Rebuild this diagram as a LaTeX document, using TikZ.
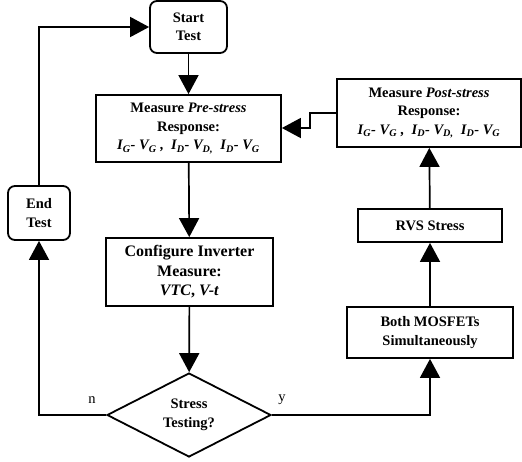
\documentclass[tikz,border=0pt]{standalone}
\usepackage{fontspec}
\setmainfont{Liberation Serif}
\usetikzlibrary{shapes.geometric,arrows.meta,positioning}
\newcommand\sbs[1]{\textsubscript{#1}}
\begin{document}
\begin{tikzpicture}[x=1pt,y=-1pt,
  every node/.style={font=\fontsize{14.5}{18.5}\selectfont\bfseries, align=center, inner sep=0pt},
  box/.style={draw, line width=1.8pt, fill=white},
  rbox/.style={box, rounded corners=7pt},
  decision/.style={draw, line width=1.8pt, diamond, aspect=1.95, minimum width=164pt, minimum height=84pt},
  conn/.style={line width=1.7pt, -{Triangle[length=19pt,width=20pt]}},
  lbl/.style={font=\fontsize{14.5}{18}\selectfont\mdseries}]
\useasboundingbox (0,0) rectangle (522,461);

\node[rbox, minimum width=77pt, minimum height=52pt] (start) at (188.5,27) {Start\\Test};
\node[box, minimum width=185pt, minimum height=67pt] (pre) at (188.5,128.5)
  {Measure \textit{Pre-stress}\\Response:\\\textit{I\sbs{G}- V\sbs{G} ,\ \ I\sbs{D}- V\sbs{D,}\ \ I\sbs{D}- V\sbs{G}}};
\node[box, minimum width=184pt, minimum height=68pt] (post) at (429,113)
  {Measure \textit{Post-stress}\\Response:\\\textit{I\sbs{G}- V\sbs{G} ,\ \ I\sbs{D}- V\sbs{D,}\ \ I\sbs{D}- V\sbs{G}}};
\node[rbox, minimum width=62pt, minimum height=54pt] (end) at (39,213) {End\\Test};
\node[box, minimum width=167pt, minimum height=68pt, font=\fontsize{16}{19.5}\selectfont\bfseries] (conf) at (189.5,272)
  {Configure Inverter\\Measure:\\\textit{VTC}, \textit{V-t}};
\node[decision] (dec) at (189,415) {Stress\\Testing?};
\node[box, minimum width=144pt, minimum height=33pt] (rvs) at (430,225.5) {RVS Stress};
\node[box, minimum width=166pt, minimum height=51pt] (both) at (430,332.5) {Both MOSFETs\\Simultaneously};

\coordinate (nl) at (39,415);
\coordinate (tl) at (39,27);
\coordinate (yr) at (430,415);
\coordinate (s1) at (310,113);
\coordinate (s2) at (310,128);

\draw[conn] (start) -- (pre);
\draw[conn] (pre) -- (conf);
\draw[conn] (conf) -- (dec);
\draw[conn] (dec.west) -- (nl) -- (end.south);
\draw[conn] (end.north) -- (tl) -- (start.west |- tl);
\draw[conn] (dec.east) -- (yr) -- (both.south);
\draw[conn] (both) -- (rvs);
\draw[conn] (rvs) -- (post);
\draw[conn] (post.west |- s1) -- (s1) -- (s2) -- (pre.east |- s2);

\node[lbl] (nlab) at (92,400) {n};
\node[lbl] (ylab) at (282,400) {y};
\end{tikzpicture}
\end{document}
